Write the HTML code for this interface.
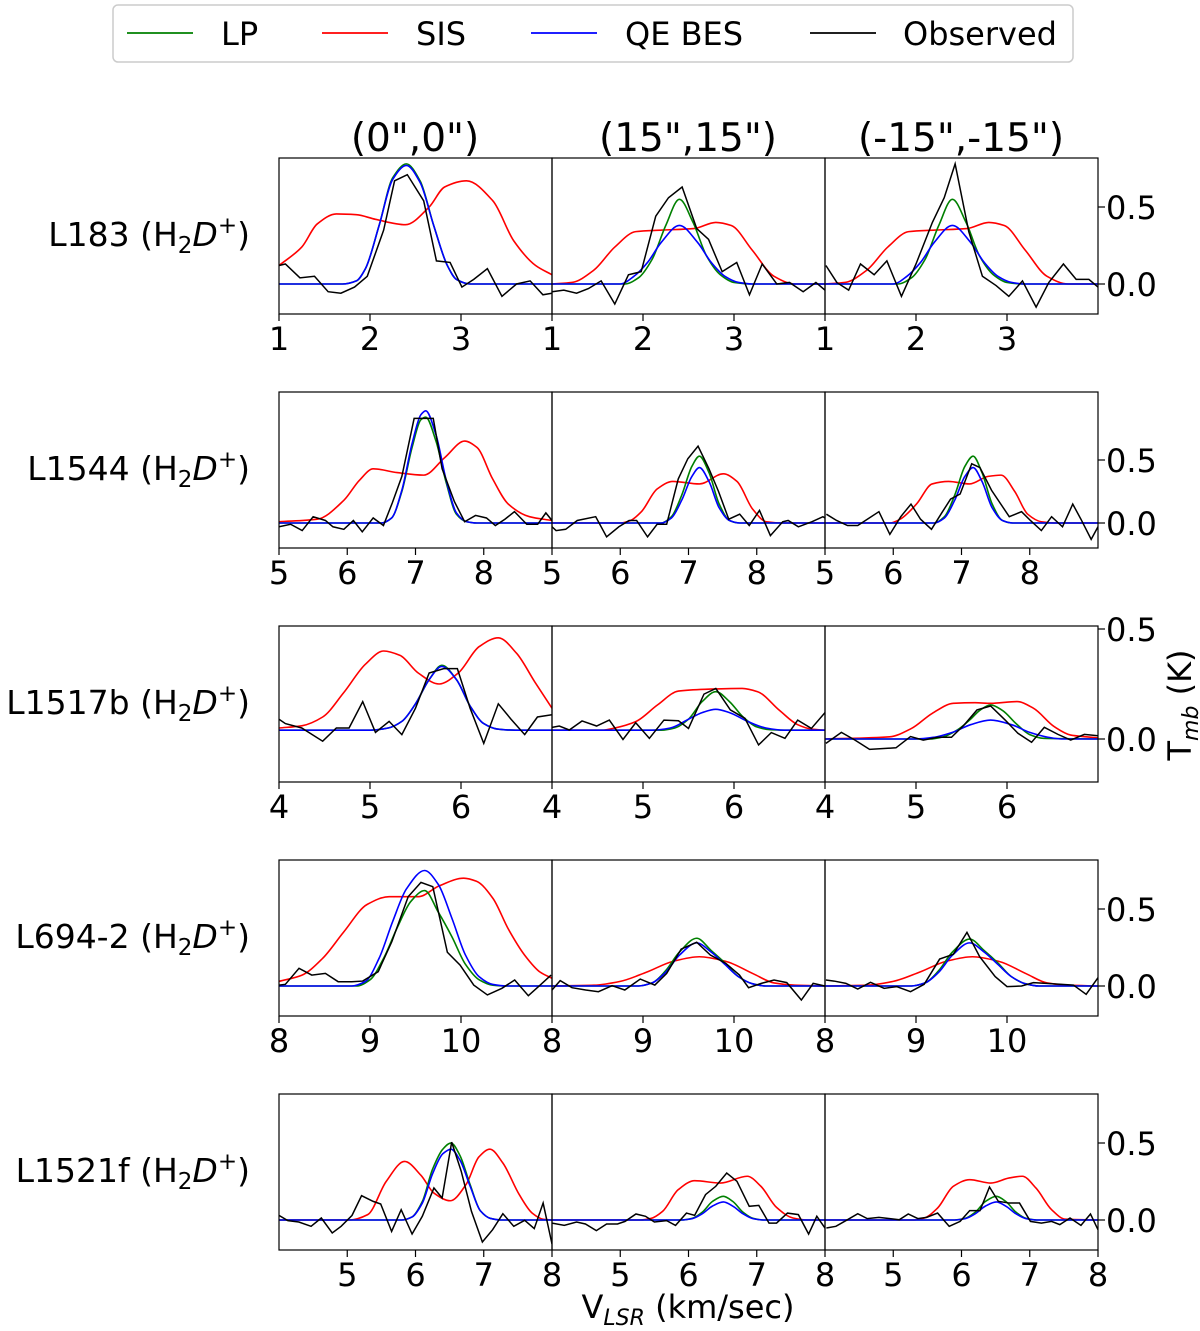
<!DOCTYPE html>
<html><head><meta charset="utf-8"><style>
html,body{margin:0;padding:0;background:#fff;}
svg{display:block;font-family:"DejaVu Sans","Liberation Sans",sans-serif;}
</style></head><body>
<svg id="chart" width="1200" height="1331" viewBox="0 0 1200 1331" xmlns="http://www.w3.org/2000/svg">
<g>
<rect x="113" y="5" width="960" height="57" rx="5" fill="#fff" stroke="#ccc" stroke-width="1.5"/>
<g><line x1="127" y1="33" x2="193" y2="33" stroke="green" stroke-width="1.8"/><text x="221" y="45" font-size="32">LP</text></g>
<g><line x1="322" y1="33" x2="388" y2="33" stroke="red" stroke-width="1.8"/><text x="416" y="45" font-size="32">SIS</text></g>
<g><line x1="531" y1="33" x2="597" y2="33" stroke="blue" stroke-width="1.8"/><text x="625" y="45" font-size="32">QE BES</text></g>
<g><line x1="810" y1="33" x2="876" y2="33" stroke="black" stroke-width="1.8"/><text x="903" y="45" font-size="32">Observed</text></g>
</g>
<text x="415" y="151" font-size="39" text-anchor="middle">(0",0")</text>
<text x="688" y="151" font-size="39" text-anchor="middle">(15",15")</text>
<text x="961" y="151" font-size="39" text-anchor="middle">(-15",-15")</text>
<text transform="translate(1191,705) rotate(-90)" font-size="32" text-anchor="middle">T<tspan font-size="22" dy="7" font-style="italic">mb</tspan><tspan dy="-7"> (K)</tspan></text>
<text x="688" y="1318" font-size="32" text-anchor="middle">V<tspan font-size="22" dy="7" font-style="italic">LSR</tspan><tspan dy="-7"> (km/sec)</tspan></text>
<g id="panels"></g>
</svg>
<script>
// ---------- data ----------
const rowNames = ["L183","L1544","L1517b","L694-2","L1521f"];
const rowXTicks = [[1,2,3],[5,6,7,8],[4,5,6],[8,9,10],[5,6,7,8]];
const rowYTicks = [[0,0.5],[0,0.5],[0,0.5],[0,0.5],[0,0.5]];
const rowXRange = [[1,4],[5,9],[4,7],[8,11],[4,8]];

// Row 1: L183
const p11_sisV=[1,1.25,1.42,1.63,1.85,2.06,2.39,2.65,2.82,3.06,3.35,3.58,3.82,4];
const p11_sisT=[0.12,0.24,0.39,0.455,0.45,0.42,0.385,0.5,0.63,0.67,0.54,0.28,0.12,0.06];
const p11_lpV=[1,1.7,1.85,1.95,2.1,2.25,2.4,2.55,2.7,2.85,2.95,3.1,4];
const p11_lpT=[0,0,0.02,0.1,0.38,0.69,0.78,0.67,0.38,0.12,0.03,0,0];
const p11_besV=[1,1.7,1.85,1.95,2.1,2.25,2.4,2.55,2.7,2.85,2.95,3.1,4];
const p11_besT=[0,0,0.02,0.1,0.38,0.68,0.77,0.66,0.38,0.12,0.03,0,0];
const p11_obsV=[1.0,1.07,1.23,1.39,1.54,1.68,1.83,1.97,2.15,2.27,2.41,2.59,2.73,2.88,3.01,3.14,3.29,3.45,3.61,3.76,3.90,4.0];
const p11_obsT=[0.12,0.13,0.04,0.05,-0.05,-0.06,-0.02,0.05,0.35,0.67,0.71,0.54,0.15,0.14,-0.02,0.03,0.10,-0.08,0.0,0.02,-0.07,-0.06];

const p12_sisV=[1,1.22,1.46,1.69,1.92,2.21,2.56,2.8,2.97,3.2,3.44,3.67,4];
const p12_sisT=[0,0.01,0.09,0.24,0.34,0.35,0.36,0.40,0.38,0.22,0.05,0.0,0];
const p12_lpV=[1,1.8,1.95,2.1,2.25,2.4,2.55,2.7,2.85,3.0,3.2,4];
const p12_lpT=[0,0,0.04,0.16,0.38,0.55,0.40,0.18,0.06,0.01,0,0];
const p12_besV=[1,1.75,1.9,2.05,2.2,2.4,2.6,2.75,2.9,3.05,3.2,4];
const p12_besT=[0,0,0.05,0.14,0.27,0.38,0.27,0.14,0.05,0.01,0,0];
const p12_obsV=[1.0,1.13,1.27,1.40,1.54,1.69,1.84,1.98,2.14,2.28,2.43,2.59,2.72,2.87,3.03,3.17,3.31,3.47,3.61,3.76,3.9,4.0];
const p12_obsT=[-0.05,-0.04,-0.06,-0.03,0.02,-0.13,0.06,0.08,0.44,0.56,0.63,0.36,0.29,0.08,0.14,-0.07,0.13,0.0,0.01,-0.05,0.01,-0.04];

const p13_sisV=[1,1.22,1.46,1.69,1.92,2.21,2.56,2.8,2.97,3.2,3.44,3.67,4];
const p13_sisT=[0,0.01,0.09,0.24,0.34,0.35,0.36,0.40,0.38,0.22,0.05,0.0,0];
const p13_lpV=[1,1.8,1.95,2.1,2.25,2.4,2.55,2.7,2.85,3.0,3.2,4];
const p13_lpT=[0,0,0.04,0.16,0.38,0.55,0.40,0.18,0.06,0.01,0,0];
const p13_besV=[1,1.75,1.9,2.05,2.2,2.4,2.6,2.75,2.9,3.05,3.2,4];
const p13_besT=[0,0,0.05,0.14,0.27,0.38,0.27,0.14,0.05,0.01,0,0];
const p13_obsV=[1.01,1.13,1.26,1.39,1.54,1.68,1.84,2.0,2.18,2.31,2.43,2.58,2.73,2.88,3.02,3.17,3.32,3.46,3.62,3.76,3.9,4.0];
const p13_obsT=[0.12,0.01,-0.04,0.13,0.06,0.15,-0.08,0.13,0.40,0.56,0.78,0.34,0.05,-0.01,-0.08,0.02,-0.15,0.01,0.13,0.03,0.03,-0.02];

// Row 2: L1544
const p21_sisV=[5,5.56,5.95,6.18,6.38,6.73,7.12,7.43,7.72,7.9,8.13,8.36,8.67,9];
const p21_sisT=[0.01,0.03,0.18,0.34,0.43,0.40,0.38,0.52,0.65,0.60,0.35,0.15,0.05,0.02];
const p21_lpV=[5,6.5,6.65,6.8,6.95,7.08,7.15,7.3,7.45,7.6,7.75,7.9,9];
const p21_lpT=[0,0,0.04,0.25,0.6,0.82,0.84,0.65,0.32,0.07,0.01,0,0];
const p21_besV=[5,6.5,6.65,6.8,6.95,7.08,7.15,7.3,7.45,7.6,7.75,7.9,9];
const p21_besT=[0,0,0.04,0.26,0.63,0.86,0.89,0.7,0.34,0.08,0.01,0,0];
const p21_obsV=[5.0,5.17,5.34,5.5,5.68,5.79,5.95,6.09,6.22,6.38,6.53,6.66,6.8,6.98,7.08,7.26,7.39,7.57,7.72,7.88,8.04,8.17,8.31,8.45,8.63,8.79,8.91,9.0];
const p21_obsT=[-0.03,-0.01,-0.06,0.05,0.02,-0.03,-0.05,0.02,-0.07,0.04,-0.02,0.16,0.37,0.83,0.83,0.83,0.43,0.17,0.01,0.06,0.04,-0.02,0.03,0.09,-0.01,-0.01,0.08,0.02];

const p22_sisV=[5,6.0,6.15,6.31,6.54,6.77,7.16,7.51,7.71,7.94,8.14,8.41,9];
const p22_sisT=[0,0,0.02,0.09,0.27,0.33,0.31,0.39,0.33,0.11,0.01,0,0];
const p22_lpV=[5,6.6,6.75,6.9,7.05,7.16,7.3,7.45,7.6,7.75,9];
const p22_lpT=[0,0,0.05,0.22,0.45,0.53,0.4,0.15,0.02,0,0];
const p22_besV=[5,6.6,6.75,6.9,7.05,7.16,7.3,7.45,7.6,7.75,9];
const p22_besT=[0,0,0.04,0.18,0.37,0.44,0.33,0.12,0.02,0,0];
const p22_obsV=[5.0,5.06,5.2,5.37,5.64,5.8,5.98,6.13,6.24,6.4,6.54,6.68,6.85,6.99,7.14,7.3,7.44,7.59,7.75,7.89,8.04,8.2,8.38,8.46,8.61,8.81,8.97,9.0];
const p22_obsT=[-0.03,-0.06,-0.05,0.02,0.05,-0.11,-0.03,0.02,0.02,-0.11,-0.01,-0.01,0.35,0.51,0.61,0.43,0.25,0.03,0.07,-0.02,0.10,-0.10,0.01,0.02,-0.03,0.01,0.05,0.04];

const p23_sisV=[5,5.95,6.1,6.34,6.57,6.81,7.12,7.39,7.58,7.78,7.97,8.17,8.4,9];
const p23_sisT=[0,0,0.03,0.15,0.31,0.33,0.31,0.37,0.38,0.25,0.07,0.01,0,0];
const p23_lpV=[5,6.6,6.75,6.9,7.05,7.17,7.3,7.45,7.6,7.75,9];
const p23_lpT=[0,0,0.05,0.22,0.45,0.53,0.4,0.15,0.02,0,0];
const p23_besV=[5,6.6,6.75,6.9,7.05,7.17,7.3,7.45,7.6,7.75,9];
const p23_besT=[0,0,0.04,0.18,0.37,0.44,0.33,0.12,0.02,0,0];
const p23_obsV=[5.02,5.17,5.33,5.48,5.62,5.79,5.95,6.11,6.26,6.4,6.56,6.71,6.84,6.98,7.15,7.27,7.44,7.7,7.88,8.01,8.17,8.32,8.48,8.63,8.75,8.9,9.0];
const p23_obsT=[0.07,0.02,-0.02,-0.02,0.03,0.09,-0.09,0.05,0.15,0.03,-0.05,0.08,0.19,0.23,0.47,0.44,0.26,0.05,0.09,0.02,-0.06,0.05,-0.03,0.15,0.03,-0.13,-0.03];

// Row 3: L1517b
const p31_sisV=[4,4.25,4.48,4.71,4.95,5.15,5.33,5.53,5.76,5.97,6.2,6.41,6.61,6.81,7];
const p31_sisT=[0.05,0.06,0.10,0.21,0.34,0.40,0.38,0.30,0.25,0.30,0.42,0.46,0.39,0.26,0.14];
const p31_lpV=[4,5.0,5.2,5.35,5.5,5.65,5.79,5.95,6.1,6.25,6.4,6.6,7];
const p31_lpT=[0.04,0.04,0.05,0.08,0.16,0.27,0.335,0.27,0.15,0.07,0.045,0.04,0.04];
const p31_besV=[4,5.0,5.2,5.35,5.5,5.65,5.79,5.95,6.1,6.25,6.4,6.6,7];
const p31_besT=[0.04,0.04,0.05,0.08,0.16,0.27,0.33,0.27,0.15,0.07,0.045,0.04,0.04];
const p31_obsV=[4.0,4.07,4.25,4.48,4.63,4.77,4.92,5.06,5.21,5.35,5.5,5.65,5.81,5.96,6.1,6.25,6.41,6.55,6.7,6.84,7.0];
const p31_obsT=[0.09,0.07,0.05,-0.01,0.05,0.05,0.17,0.03,0.08,0.02,0.14,0.30,0.32,0.32,0.14,-0.02,0.16,0.09,0.02,0.10,0.11];

const p32_sisV=[4,4.55,4.69,4.92,5.16,5.39,5.68,6.09,6.26,6.5,6.7,6.85,7];
const p32_sisT=[0.04,0.04,0.05,0.079,0.155,0.218,0.226,0.23,0.215,0.13,0.065,0.045,0.04];
const p32_lpV=[4,5.2,5.35,5.5,5.65,5.8,5.95,6.1,6.25,6.4,6.6,7];
const p32_lpT=[0.04,0.04,0.05,0.09,0.17,0.215,0.17,0.1,0.055,0.042,0.04,0.04];
const p32_besV=[4,5.1,5.3,5.5,5.65,5.8,5.95,6.15,6.35,6.55,7];
const p32_besT=[0.04,0.04,0.05,0.09,0.12,0.135,0.12,0.08,0.05,0.04,0.04];
const p32_obsV=[4.0,4.08,4.19,4.33,4.49,4.63,4.78,4.92,5.07,5.23,5.39,5.5,5.67,5.8,5.96,6.12,6.27,6.41,6.56,6.7,6.85,7.0];
const p32_obsT=[0.053,0.059,0.041,0.082,0.059,0.086,-0.002,0.074,0.003,0.086,0.083,0.048,0.204,0.23,0.132,0.094,-0.027,0.029,0.003,0.086,0.048,0.12];

const p33_sisV=[4,4.71,4.95,5.18,5.41,5.65,5.82,6.11,6.29,6.52,6.7,6.87,7];
const p33_sisT=[0,0.01,0.048,0.117,0.162,0.165,0.162,0.17,0.14,0.056,0.018,0.01,0.005];
const p33_lpV=[4,5.15,5.3,5.45,5.6,5.7,5.82,5.95,6.1,6.25,6.4,7];
const p33_lpT=[0,0,0.01,0.04,0.09,0.13,0.155,0.13,0.07,0.02,0.003,0];
const p33_besV=[4,5.0,5.2,5.4,5.6,5.82,6.05,6.25,6.45,6.6,7];
const p33_besT=[0,0,0.008,0.03,0.065,0.086,0.065,0.03,0.008,0,0];
const p33_obsV=[4.01,4.18,4.33,4.49,4.78,4.94,5.08,5.24,5.39,5.53,5.67,5.82,5.98,6.12,6.27,6.41,6.56,6.7,6.85,7.02];
const p33_obsT=[-0.02,0.03,-0.005,-0.047,-0.04,0.011,-0.005,0.008,0.008,0.064,0.132,0.15,0.086,0.026,-0.015,0.053,0.021,-0.005,0.021,0.014];

// Row 4: L694-2
const p41_sisV=[8,8.25,8.48,8.71,8.97,9.21,9.53,9.76,10.03,10.17,10.35,10.52,10.7,10.87,11];
const p41_sisT=[0.03,0.07,0.18,0.35,0.53,0.58,0.58,0.65,0.70,0.68,0.57,0.37,0.20,0.09,0.05];
const p41_lpV=[8,8.85,9.0,9.15,9.3,9.45,9.6,9.75,9.9,10.05,10.2,10.35,10.5,11];
const p41_lpT=[0,0,0.04,0.18,0.38,0.55,0.62,0.48,0.32,0.14,0.04,0.005,0,0];
const p41_besV=[8,8.8,8.95,9.1,9.25,9.4,9.6,9.75,9.9,10.05,10.2,10.35,10.5,11];
const p41_besT=[0,0,0.03,0.18,0.42,0.63,0.75,0.66,0.44,0.2,0.06,0.01,0,0];
const p41_obsV=[8.0,8.07,8.22,8.36,8.51,8.65,8.8,8.92,9.09,9.24,9.42,9.56,9.69,9.85,9.99,10.14,10.29,10.45,10.59,10.74,10.87,10.99];
const p41_obsT=[0.006,0.011,0.115,0.071,0.082,0.028,0.028,0.032,0.093,0.288,0.58,0.673,0.645,0.219,0.136,0.006,-0.058,-0.015,0.039,-0.063,0.006,0.071];

const p42_sisV=[8,8.46,8.75,9.04,9.33,9.62,9.91,10.21,10.44,10.67,11];
const p42_sisT=[0,0.005,0.03,0.09,0.16,0.19,0.16,0.08,0.02,0.005,0];
const p42_lpV=[8,8.95,9.1,9.25,9.4,9.59,9.75,9.9,10.05,10.2,10.35,11];
const p42_lpT=[0,0,0.02,0.1,0.22,0.31,0.23,0.15,0.06,0.015,0,0];
const p42_besV=[8,8.95,9.1,9.25,9.4,9.59,9.75,9.9,10.05,10.2,10.35,11];
const p42_besT=[0,0,0.02,0.09,0.2,0.28,0.22,0.14,0.06,0.015,0,0];
const p42_obsV=[8.0,8.09,8.22,8.37,8.51,8.66,8.8,8.97,9.13,9.26,9.42,9.59,9.74,9.91,10.06,10.16,10.3,10.44,10.58,10.74,10.87,11.0];
const p42_obsT=[-0.026,0.035,-0.011,-0.026,-0.037,0.002,-0.026,0.045,0.006,0.082,0.24,0.284,0.201,0.147,0.071,-0.011,0.017,0.039,0.022,-0.091,0.017,0];

const p43_sisV=[8,8.46,8.75,9.04,9.33,9.62,9.91,10.21,10.44,10.67,11];
const p43_sisT=[0,0.005,0.03,0.09,0.16,0.19,0.16,0.08,0.02,0.005,0];
const p43_lpV=[8,8.95,9.1,9.25,9.4,9.59,9.75,9.9,10.05,10.2,10.35,11];
const p43_lpT=[0,0,0.02,0.1,0.22,0.305,0.23,0.15,0.06,0.015,0,0];
const p43_besV=[8,8.95,9.1,9.25,9.4,9.59,9.75,9.9,10.05,10.2,10.35,11];
const p43_besT=[0,0,0.02,0.09,0.2,0.28,0.22,0.14,0.06,0.015,0,0];
const p43_obsV=[8.01,8.1,8.23,8.36,8.5,8.65,8.79,8.94,9.09,9.26,9.41,9.56,9.7,9.87,10.0,10.16,10.29,10.43,10.58,10.73,10.87,11.0];
const p43_obsT=[0.039,0.032,0.017,-0.02,0.024,-0.015,-0.004,-0.037,0.011,0.175,0.206,0.348,0.19,0.061,-0.004,0,0.022,0.017,0.011,0.006,-0.054,0.054];

// Row 5: L1521f
const p51_sisV=[4,5.03,5.3,5.57,5.84,6.08,6.27,6.51,6.74,6.93,7.09,7.28,7.52,7.71,7.87,8];
const p51_sisT=[0,0,0.035,0.25,0.38,0.29,0.175,0.125,0.23,0.41,0.46,0.37,0.165,0.045,0.005,0];
const p51_lpV=[4,5.8,5.95,6.1,6.25,6.4,6.52,6.65,6.8,6.95,7.1,7.25,8];
const p51_lpT=[0,0,0.02,0.12,0.33,0.46,0.5,0.42,0.23,0.06,0.01,0,0];
const p51_besV=[4,5.8,5.95,6.1,6.25,6.4,6.52,6.65,6.8,6.95,7.1,7.25,8];
const p51_besT=[0,0,0.02,0.11,0.3,0.43,0.46,0.39,0.22,0.06,0.01,0,0];
const p51_obsV=[4.0,4.13,4.29,4.47,4.62,4.78,4.91,5.07,5.21,5.38,5.49,5.65,5.79,5.95,6.1,6.27,6.39,6.53,6.67,6.82,6.98,7.13,7.28,7.44,7.6,7.74,7.87,8.0];
const p51_obsT=[0.03,-0.004,-0.013,-0.041,0.013,-0.084,-0.041,0.03,0.158,0.121,0.104,-0.074,0.067,-0.091,0.024,0.208,0.143,0.506,0.316,0.056,-0.143,-0.063,0.041,-0.041,-0.002,-0.056,0.11,-0.156];

const p52_sisV=[4,5.3,5.45,5.62,5.85,6.09,6.47,6.86,7.06,7.29,7.53,7.75,8];
const p52_sisT=[0,0,0.01,0.056,0.197,0.255,0.24,0.284,0.219,0.082,0.013,0,0];
const p52_lpV=[4,5.9,6.05,6.2,6.35,6.51,6.65,6.8,6.95,7.1,8];
const p52_lpT=[0,0,0.01,0.05,0.12,0.154,0.12,0.05,0.01,0,0];
const p52_besV=[4,5.9,6.05,6.2,6.35,6.51,6.65,6.8,6.95,7.1,8];
const p52_besT=[0,0,0.008,0.04,0.09,0.117,0.09,0.04,0.008,0,0];
const p52_obsV=[4.0,4.18,4.36,4.49,4.65,4.8,4.96,5.07,5.23,5.37,5.5,5.68,5.81,5.97,6.09,6.25,6.4,6.56,6.71,6.89,7.03,7.18,7.29,7.45,7.61,7.76,7.88,8.0];
const p52_obsT=[-0.02,-0.035,-0.013,-0.026,-0.069,-0.026,-0.026,-0.009,0.039,0.024,-0.013,-0.004,-0.035,0.045,0.03,0.165,0.219,0.305,0.251,0.089,0.095,-0.02,-0.02,0.045,0.035,-0.091,0.024,-0.052];

const p53_sisV=[4,5.3,5.45,5.65,5.88,6.12,6.43,6.7,6.89,7.09,7.32,7.52,8];
const p53_sisT=[0,0,0.012,0.078,0.219,0.262,0.24,0.273,0.284,0.208,0.067,0.005,0];
const p53_lpV=[4,5.9,6.05,6.2,6.35,6.51,6.65,6.8,6.95,7.1,8];
const p53_lpT=[0,0,0.01,0.05,0.12,0.154,0.12,0.05,0.01,0,0];
const p53_besV=[4,5.9,6.05,6.2,6.35,6.51,6.65,6.8,6.95,7.1,8];
const p53_besT=[0,0,0.008,0.04,0.09,0.117,0.09,0.04,0.008,0,0];
const p53_obsV=[4.02,4.16,4.33,4.48,4.62,4.79,4.95,5.09,5.22,5.36,5.49,5.65,5.82,5.98,6.12,6.27,6.41,6.54,6.7,6.85,7.01,7.17,7.32,7.44,7.59,7.75,7.89,8.0];
const p53_obsT=[-0.052,-0.041,0.002,0.041,0.009,0.017,0.009,0.002,0.039,0.009,0.017,0.045,-0.041,-0.009,0.061,0.061,0.214,0.121,0.11,0.11,-0.009,-0.02,-0.009,-0.03,0.013,-0.035,0.039,-0.063];

// ---------- layout (not data) ----------
const rowTop=[158,392,626,860,1094];
const rowZeroY=[284,523,739,986,1220];
const rowPxPerK=[154,126,220,154,154];
const colLeft=[279,552,825];
const panelW=273, panelH=156;

const panelData = {
 p11:[p11_sisV,p11_sisT,p11_lpV,p11_lpT,p11_besV,p11_besT,p11_obsV,p11_obsT],
 p12:[p12_sisV,p12_sisT,p12_lpV,p12_lpT,p12_besV,p12_besT,p12_obsV,p12_obsT],
 p13:[p13_sisV,p13_sisT,p13_lpV,p13_lpT,p13_besV,p13_besT,p13_obsV,p13_obsT],
 p21:[p21_sisV,p21_sisT,p21_lpV,p21_lpT,p21_besV,p21_besT,p21_obsV,p21_obsT],
 p22:[p22_sisV,p22_sisT,p22_lpV,p22_lpT,p22_besV,p22_besT,p22_obsV,p22_obsT],
 p23:[p23_sisV,p23_sisT,p23_lpV,p23_lpT,p23_besV,p23_besT,p23_obsV,p23_obsT],
 p31:[p31_sisV,p31_sisT,p31_lpV,p31_lpT,p31_besV,p31_besT,p31_obsV,p31_obsT],
 p32:[p32_sisV,p32_sisT,p32_lpV,p32_lpT,p32_besV,p32_besT,p32_obsV,p32_obsT],
 p33:[p33_sisV,p33_sisT,p33_lpV,p33_lpT,p33_besV,p33_besT,p33_obsV,p33_obsT],
 p41:[p41_sisV,p41_sisT,p41_lpV,p41_lpT,p41_besV,p41_besT,p41_obsV,p41_obsT],
 p42:[p42_sisV,p42_sisT,p42_lpV,p42_lpT,p42_besV,p42_besT,p42_obsV,p42_obsT],
 p43:[p43_sisV,p43_sisT,p43_lpV,p43_lpT,p43_besV,p43_besT,p43_obsV,p43_obsT],
 p51:[p51_sisV,p51_sisT,p51_lpV,p51_lpT,p51_besV,p51_besT,p51_obsV,p51_obsT],
 p52:[p52_sisV,p52_sisT,p52_lpV,p52_lpT,p52_besV,p52_besT,p52_obsV,p52_obsT],
 p53:[p53_sisV,p53_sisT,p53_lpV,p53_lpT,p53_besV,p53_besT,p53_obsV,p53_obsT]
};

const NS="http://www.w3.org/2000/svg";
const root=document.getElementById('panels');
function mk(tag,attrs,parent){const e=document.createElementNS(NS,tag);for(const k in attrs)e.setAttribute(k,attrs[k]);parent.appendChild(e);return e;}

// monotone cubic (Fritsch-Carlson) through pixel points
function smoothPath(pts){
  const n=pts.length;
  const dx=[],m=[],t=new Array(n);
  for(let i=0;i<n-1;i++){dx[i]=pts[i+1][0]-pts[i][0];m[i]=(pts[i+1][1]-pts[i][1])/dx[i];}
  t[0]=m[0];t[n-1]=m[n-2];
  for(let i=1;i<n-1;i++){
    if(m[i-1]*m[i]<=0)t[i]=0;
    else{const w1=2*dx[i]+dx[i-1],w2=dx[i]+2*dx[i-1];t[i]=(w1+w2)/(w1/m[i-1]+w2/m[i]);}
  }
  let d="M"+pts[0][0].toFixed(2)+","+pts[0][1].toFixed(2);
  for(let i=0;i<n-1;i++){
    const h=dx[i]/3;
    d+=" C"+(pts[i][0]+h).toFixed(2)+","+(pts[i][1]+t[i]*h).toFixed(2)+" "+(pts[i+1][0]-h).toFixed(2)+","+(pts[i+1][1]-t[i+1]*h).toFixed(2)+" "+pts[i+1][0].toFixed(2)+","+pts[i+1][1].toFixed(2);
  }
  return d;
}

for(let r=0;r<5;r++){
  const [x0,x1]=rowXRange[r];
  const lab=mk('text',{x:250,y:rowTop[r]+panelH/2+10,'font-size':33,'text-anchor':'end'},document.getElementById('chart'));
  
  
  lab.innerHTML=rowNames[r]+' (H<tspan font-size="23" dy="7">2</tspan><tspan dy="-7" font-style="italic">D</tspan><tspan font-size="23" dy="-13">+</tspan><tspan dy="13">)</tspan>';
  for(let c=0;c<3;c++){
    const L=colLeft[c], T=rowTop[r];
    const xs=v=>L+(v-x0)/(x1-x0)*panelW;
    const ys=t=>rowZeroY[r]-t*rowPxPerK[r];
    const id='p'+(r+1)+(c+1);
    const g=mk('g',{},root);
    
    
    const cp=mk('clipPath',{id:'clip'+id},g);
    mk('rect',{x:L,y:T,width:panelW,height:panelH},cp);
    const gd=mk('g',{'clip-path':'url(#clip'+id+')'},g);
    const D=panelData[id];
    const series=[[0,'red','sis-curve'],[2,'green','lp-curve'],[4,'blue','qe-bes-curve']];
    for(const [k,col,nm] of series){
      const pts=D[k].map((v,i)=>[xs(v),ys(D[k+1][i])]);
      const p=mk('path',{d:smoothPath(pts),fill:'none',stroke:col,'stroke-width':1.6},gd);
      
      
    }
    const op=D[6].map((v,i)=>xs(v).toFixed(2)+','+ys(D[7][i]).toFixed(2)).join(' ');
    const ob=mk('polyline',{points:op,fill:'none',stroke:'black','stroke-width':1.5},gd);
    
    
    const fr=mk('rect',{x:L,y:T,width:panelW,height:panelH,fill:'none',stroke:'black','stroke-width':1.2},g);
    
    
    for(const tv of rowXTicks[r]){
      const px=xs(tv);
      mk('line',{x1:px,y1:T+panelH,x2:px,y2:T+panelH+7,stroke:'black','stroke-width':1.2},g);
      const tl=mk('text',{x:px,y:T+panelH+36,'font-size':32,'text-anchor':'middle'},g);
      
      
      tl.textContent=String(tv);
    }
    if(c===2){
      for(const yv of rowYTicks[r]){
        const py=ys(yv);
        mk('line',{x1:L+panelW,y1:py,x2:L+panelW+7,y2:py,stroke:'black','stroke-width':1.2},g);
        const yl=mk('text',{x:L+panelW+8,y:py+12,'font-size':32},g);
        
        
        yl.textContent=yv.toFixed(1);
      }
    }
  }
}
</script>
</body></html>
